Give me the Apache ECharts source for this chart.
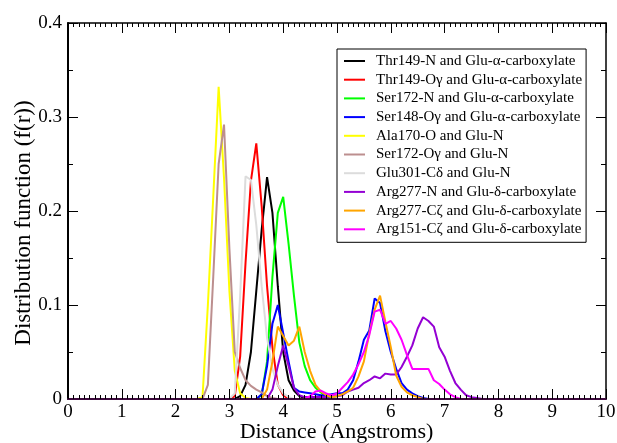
<!DOCTYPE html>
<html>
<head>
<meta charset="utf-8">
<script src="https://cdn.jsdelivr.net/npm/echarts@6/dist/echarts.min.js"></script>
<style>
  html, body { margin: 0; padding: 0; background: #ffffff; }
  #chart { width: 617px; height: 443px; }
</style>
</head>
<body>
<div id="chart"></div>
<script>
// Radial distribution functions f(r), sampled every 0.1 Angstrom.
// Each profile starts at its own r and lists f(r) values from there on.
const rStep = 0.1;

const thr149N_start = 3.1;
const thr149N = [0, 0.003, 0.015, 0.05, 0.115, 0.18, 0.236, 0.198, 0.12, 0.05, 0.02, 0.009, 0.003, 0.001, 0];

const thr149Og_start = 3.0;
const thr149Og = [0, 0.003, 0.045, 0.145, 0.232, 0.272, 0.205, 0.12, 0.055, 0.015, 0.004, 0];

const ser172N_start = 3.5;
const ser172N = [0, 0.004, 0.04, 0.13, 0.198, 0.215, 0.165, 0.11, 0.06, 0.035, 0.02, 0.012, 0.007, 0.003, 0.001, 0];

const ser148Og_start = 3.5;
const ser148Og = [0, 0.005, 0.035, 0.08, 0.1, 0.07, 0.04, 0.012, 0.008, 0.007, 0.006, 0.005, 0.004, 0.004, 0.005,
  0.006, 0.006, 0.01, 0.02, 0.04, 0.063, 0.073, 0.107, 0.102, 0.072, 0.05, 0.032, 0.017, 0.01, 0.006, 0.003, 0.001, 0];

const ala170O_start = 2.4;
const ala170O = [0, 0.002, 0.1, 0.215, 0.332, 0.235, 0.115, 0.03, 0.006, 0.001, 0];

const ser172Og_start = 2.5;
const ser172Og = [0, 0.015, 0.13, 0.25, 0.292, 0.16, 0.05, 0.033, 0.02, 0.014, 0.01, 0.007, 0.003, 0.001, 0];

const glu301Cd_start = 3.0;
const glu301Cd = [0, 0.006, 0.11, 0.237, 0.233, 0.185, 0.12, 0.065, 0.032, 0.015, 0.006, 0.002, 0];

const arg277N_start = 3.7;
const arg277N = [0, 0.01, 0.035, 0.057, 0.035, 0.012, 0.004, 0.002, 0.002, 0.002, 0.002, 0.002, 0.003,
  0.003, 0.004, 0.008, 0.01, 0.012, 0.017, 0.02, 0.024, 0.022, 0.027, 0.026, 0.026, 0.034, 0.045, 0.057,
  0.075, 0.087, 0.083, 0.077, 0.055, 0.045, 0.03, 0.017, 0.01, 0.004, 0.002, 0.001, 0];

const arg277Cz_start = 3.6;
const arg277Cz = [0, 0.01, 0.04, 0.077, 0.067, 0.057, 0.062, 0.077, 0.05, 0.03, 0.015, 0.008, 0.004, 0.002,
  0.003, 0.005, 0.008, 0.012, 0.024, 0.04, 0.07, 0.095, 0.11, 0.082, 0.055, 0.025, 0.013, 0.007, 0.004, 0.002, 0];

const arg151Cz_start = 4.4;
const arg151Cz = [0, 0.003, 0.008, 0.009, 0.006, 0.004, 0.006, 0.012, 0.018, 0.026, 0.037, 0.05, 0.068,
  0.093, 0.095, 0.08, 0.083, 0.075, 0.063, 0.047, 0.032, 0.032, 0.032, 0.032, 0.02, 0.016, 0.01, 0.005, 0.002, 0];

const seriesNames = [
  'Thr149-N and Glu-\u03b1-carboxylate',
  'Thr149-O\u03b3 and Glu-\u03b1-carboxylate',
  'Ser172-N and Glu-\u03b1-carboxylate',
  'Ser148-O\u03b3 and Glu-\u03b1-carboxylate',
  'Ala170-O and Glu-N',
  'Ser172-O\u03b3 and Glu-N',
  'Glu301-C\u03b4 and Glu-N',
  'Arg277-N and Glu-\u03b4-carboxylate',
  'Arg277-C\u03b6 and Glu-\u03b4-carboxylate',
  'Arg151-C\u03b6 and Glu-\u03b4-carboxylate'
];
const seriesColors = ['#000000', '#ff0000', '#00ff00', '#0000ff', '#ffff00',
  '#bc8f8f', '#dcdcdc', '#9400d3', '#ffa500', '#ff00ff'];
const seriesValues = [thr149N, thr149Og, ser172N, ser148Og, ala170O, ser172Og, glu301Cd, arg277N, arg277Cz, arg151Cz];
const seriesStarts = [thr149N_start, thr149Og_start, ser172N_start, ser148Og_start, ala170O_start,
  ser172Og_start, glu301Cd_start, arg277N_start, arg277Cz_start, arg151Cz_start];

const xTitle = 'Distance (Angstroms)';
const yTitle = 'Distribution function (f(r))';

const serif = '"Liberation Serif", "DejaVu Serif", serif';

function pairs(start, values) {
  return values.map((v, i) => [Math.round((start + i * rStep) * 10) / 10, v]);
}

const chart = echarts.init(document.getElementById('chart'), null, { renderer: 'canvas' });

const baseX = {
  type: 'value', min: 0, max: 10, interval: 1,
  splitLine: { show: false },
  axisTick: { show: true, inside: true, length: 10, lineStyle: { color: '#000', width: 1 } },
  minorTick: { show: true, splitNumber: 10, length: 4, lineStyle: { color: '#000', width: 1 } },
  minorSplitLine: { show: false }
};
const baseY = {
  type: 'value', min: 0, max: 0.4, interval: 0.1,
  splitLine: { show: false },
  axisTick: { show: true, inside: true, length: 10, lineStyle: { color: '#000', width: 1 } },
  minorTick: { show: true, splitNumber: 2, length: 5, lineStyle: { color: '#000', width: 1 } },
  minorSplitLine: { show: false }
};

chart.setOption({
  animation: false,
  backgroundColor: '#ffffff',
  grid: { left: 68, top: 23, right: 11, bottom: 44, outerBoundsMode: 'none' },
  xAxis: [
    Object.assign({}, baseX, {
      position: 'bottom', z: 5,
      axisLine: { show: true, onZero: false, lineStyle: { color: '#3d0a3d', width: 2 } },
      axisLabel: { show: true, margin: 4, fontSize: 19, fontFamily: serif, color: '#000' }
    }),
    Object.assign({}, baseX, {
      position: 'top',
      axisLine: { show: true, onZero: false, lineStyle: { color: '#000', width: 1.5 } },
      axisLabel: { show: false }
    })
  ],
  yAxis: [
    Object.assign({}, baseY, {
      position: 'left',
      axisLine: { show: true, onZero: false, lineStyle: { color: '#000', width: 2 } },
      axisLabel: { show: true, margin: 6, fontSize: 19, fontFamily: serif, color: '#000' }
    }),
    Object.assign({}, baseY, {
      position: 'right',
      axisLine: { show: true, onZero: false, lineStyle: { color: '#000', width: 1.5 } },
      axisLabel: { show: false }
    })
  ],
  legend: {
    orient: 'vertical',
    left: 337, top: 49,
    padding: [4, 4, 5, 7],
    itemGap: 2.7,
    itemWidth: 21, itemHeight: 2,
    icon: 'rect',
    borderColor: '#000', borderWidth: 1, borderRadius: 0,
    backgroundColor: '#ffffff',
    textStyle: { fontFamily: serif, fontSize: 15, color: '#000', lineHeight: 16, padding: [0, 0, 0, 6] },
    data: seriesNames
  },
  graphic: [
    {
      type: 'text', x: 336.5, y: 432,
      style: { text: xTitle, font: '22px ' + serif, fill: '#000', align: 'center', verticalAlign: 'middle' }
    },
    {
      type: 'text', x: 24, y: 223, rotation: Math.PI / 2,
      style: { text: yTitle, font: '23px ' + serif, fill: '#000', align: 'center', verticalAlign: 'middle' }
    }
  ],
  series: seriesNames.map((name, i) => ({
    name: name,
    type: 'line',
    xAxisIndex: 0, yAxisIndex: 0,
    showSymbol: false,
    symbol: 'none',
    color: seriesColors[i],
    lineStyle: { color: seriesColors[i], width: 2 },
    data: pairs(seriesStarts[i], seriesValues[i])
  }))
});
</script>
</body>
</html>
